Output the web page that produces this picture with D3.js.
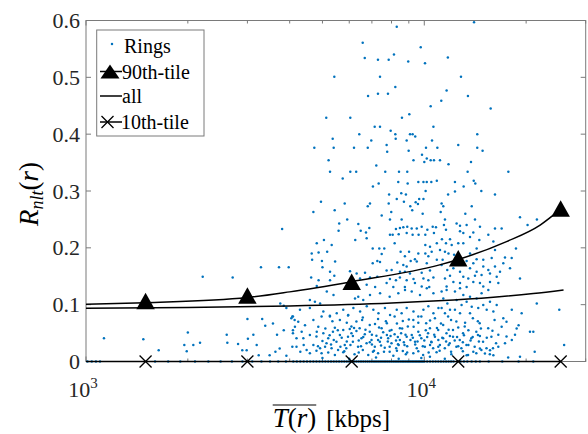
<!DOCTYPE html>
<html><head><meta charset="utf-8">
<script src="https://cdn.jsdelivr.net/npm/d3@7"></script>
<style>body{margin:0;background:#fff}svg{display:block}</style>
</head><body>
<svg id="c" width="588" height="434"></svg>
<script>
// ---- data (T in kbps, R values) ----
const rings = [
[8290,.589],[14030,.597],[6576,.561],[9760,.553],[6667,.534],[7295,.531],[7848,.531],[8134,.540],[8965,.528],[10048,.525],[11740,.535],[5420,.501],[7397,.501],[12836,.501],[8210,.483],[6820,.467],[7295,.471],[7809,.471],[11640,.477],[13460,.467],[11225,.459],[10443,.449],[15710,.445],[5131,.429],[6043,.429],[8590,.429],[9030,.435],[7135,.413],[7397,.413],[10640,.413],[7954,.406],[6424,.400],[8210,.400],[9072,.400],[9237,.400],[14340,.400],[5361,.392],[8230,.392],[9402,.396],[6971,.389],[8870,.389],[10540,.389],[4730,.376],[5397,.376],[6197,.376],[6806,.376],[7737,.381],[7768,.369],[8990,.371],[10117,.376],[10930,.376],[12600,.381],[14340,.376],[14870,.371],[5213,.354],[7213,.345],[9290,.354],[9845,.364],[10000,.351],[10170,.357],[10443,.354],[10680,.354],[11127,.354],[11790,.347],[13743,.351],[5264,.334],[6043,.334],[6290,.334],[7666,.334],[8419,.334],[8905,.334],[13430,.334],[17720,.334],[5739,.322],[7050,.308],[7330,.313],[8376,.316],[8930,.313],[9600,.316],[9940,.316],[10170,.316],[10490,.316],[10890,.318],[12320,.316],[14000,.318],[14150,.313],[13070,.308],[10090,.300],[14740,.300],[7870,.294],[8549,.296],[8824,.294],[11760,.294],[12320,.299],[16180,.294],[4950,.281],[5818,.278],[8290,.286],[9660,.286],[9940,.286],[8705,.281],[7848,.278],[9430,.280],[9577,.277],[11250,.278],[6910,.278],[6806,.273],[9090,.273],[11380,.273],[13810,.273],[4700,.263],[5434,.266],[7987,.263],[9212,.266],[9890,.260],[11180,.263],[13220,.260],[7483,.257],[5917,.250],[7916,.250],[8572,.250],[11510,.250],[14120,.250],[19180,.254],[21520,.250],
[5604,.243],[6382,.242],[6877,.235],[6487,.230],[6724,.227],[5580,.230],[8245,.233],[8472,.235],[8670,.236],[8905,.237],[9177,.234],[9500,.234],[9825,.237],[10210,.232],[10590,.237],[10826,.236],[7916,.223],[8063,.223],[8400,.224],[8870,.226],[9237,.223],[9620,.223],[10070,.223],[10680,.226],[6755,.217],[6251,.214],[5050,.214],[4810,.208],[5325,.205],[8173,.208],[7039,.199],[7361,.199],[7615,.199],[10070,.205],[10395,.202],[10890,.208],[4647,.190],[4870,.192],[5163,.193],[8512,.193],[9015,.193],[9600,.190],[10070,.190],[10515,.193],[7483,.189],[8763,.185],[10280,.185],[9384,.180],[9500,.176],[9115,.177],[7039,.173],[7263,.177],[7397,.175],[4660,.179],[4983,.177],[5450,.176],[10890,.179],[8320,.174],[10170,.173],[8670,.170],[8870,.167],[5000,.166],[5264,.158],[6031,.159],[6310,.155],[6680,.156],[7737,.160],[8008,.161],[8472,.158],[8763,.158],[9072,.155],[9825,.156],[10395,.160],[4630,.148],[4870,.143],[5264,.143],[5420,.151],[6456,.146],[6910,.148],[7263,.149],[7916,.145],[8245,.143],[8472,.148],[8870,.143],[9290,.145],[9940,.146],[10280,.143],[10640,.148],[4810,.133],[6755,.135],[7157,.131],[7737,.138],[8100,.131],[8763,.131],[9384,.138],[9825,.132],[10345,.131],
[11430,.240],[11590,.232],[12460,.243],[12750,.239],[13340,.240],[14607,.237],[20200,.240],[12750,.229],[13040,.226],[13960,.227],[15460,.223],[16180,.234],[16930,.234],[11275,.215],[11590,.208],[11912,.215],[12050,.205],[12600,.208],[13040,.208],[13650,.219],[14540,.214],[16000,.211],[14280,.199],[16180,.196],[18660,.199],[11127,.196],[11510,.193],[11790,.190],[12250,.188],[13650,.190],[13340,.177],[14280,.180],[14940,.179],[15820,.182],[17320,.183],[18130,.182],[17120,.173],[13960,.173],[11330,.179],[11250,.170],[11690,.161],[12190,.164],[12750,.158],[13650,.164],[14280,.158],[14940,.167],[15460,.161],[16180,.167],[16740,.158],[17920,.164],[13040,.149],[13490,.146],[14120,.151],[14770,.152],[15637,.155],[16370,.149],[19180,.146],[11510,.146],[11912,.151],[12190,.140],[12750,.138],[13960,.140],[14607,.138],[15637,.140],[16550,.138],[11640,.132],[13340,.131],[14940,.132],
[3800,.233],[2213,.149],[2714,.148],[3290,.166],[3720,.166],[3974,.166],[1130,.041],[1477,.039],[1640,.020],[2000,.051],[1953,.029],[2076,.029],[2173,.033],[1985,.018],[2606,.047],[2617,.033],[2815,.031],[3000,.075],[3317,.075],[3387,.063],[3010,.040],[3124,.047],[3195,.029],[2897,.020],[2985,.020],[3240,.011],[3490,.011],[3630,.017],[3737,.023],[3912,.010],[3670,.047],[3842,.055],[3752,.102],[3842,.098],[3912,.094],[4073,.079],[4137,.073],[4090,.055],[4190,.041],[3570,.067],[4073,.026],[4146,.061],
[6240,.111],[6380,.114],[6600,.108],[6910,.117],[7400,.120],[7900,.114],[8380,.120],[8770,.126],[9180,.123],[9710,.117],[10170,.129],[10640,.120],[4590,.108],[4750,.105],[4920,.102],[5390,.117],[5150,.123],
[4090,.079],[4290,.091],[4590,.094],[5030,.088],[5260,.079],[5510,.085],[5760,.091],[5960,.082],[6170,.094],[6460,.088],[6760,.097],[7070,.091],[7320,.085],[7650,.094],[7920,.082],[8290,.091],[8570,.085],[8870,.094],[9290,.088],[9600,.079],[9940,.091],[10280,.097],[10640,.085],[11010,.094],
[4045,.076],[4240,.070],[4440,.064],[4700,.073],[4860,.061],[4090,.0496],[4340,.0525],[4390,.0408],[4590,.0467],[4810,.0525],[4190,.0261],[4490,.0202],[4700,.029],[4920,.0232],[4590,.0144],
[4970,.079],[5260,.0805],[5630,.0731],[5950,.081],[6300,.0702],[6580,.0772],[6900,.0643],[7300,.0749],[7750,.0672],[8170,.079],[8640,.0713],[8940,.0614],[6090,.0614],[5440,.0596],[7480,.0584],[8000,.0555],[8470,.0584],[5030,.0496],[5200,.0408],[5370,.0525],[5500,.0349],[5630,.0467],[5760,.0555],[5820,.029],[5950,.0437],[6090,.0496],[6150,.0349],[6300,.0537],[6370,.0261],[6520,.0408],[6670,.0478],[6750,.032],[6900,.0525],[6980,.0379],[7140,.0261],[7220,.0455],[7390,.0349],[7560,.0514],[7640,.0243],[7820,.0408],[8000,.032],[8170,.0478],[8260,.0232],[8470,.0379],[8540,.0496],[8740,.029],[8870,.0437],[5090,.0261],[5320,.0232],[5560,.0202],[6580,.0202],[7050,.0173],[7900,.0173],[8640,.0185],[5140,.032],[5880,.0232],[6020,.0572],[6440,.0584],[7750,.0467],[8360,.0302],[4970,.0143],[5440,.0114],[5760,.0161],[6220,.0126],[6830,.0114],[7300,.0143],[8100,.0103],[8820,.0126],
[9280,.0731],[9800,.079],[10130,.0672],[10750,.076],[11370,.0643],[11760,.079],[12440,.0702],[13170,.0614],[13920,.076],[14580,.0672],[15450,.0584],[16130,.0731],[10390,.0584],[12160,.0555],[14250,.0525],[9180,.0467],[9390,.0349],[9600,.0525],[9800,.0408],[10040,.0261],[10260,.0496],[10490,.0349],[10750,.0437],[10990,.0555],[11120,.029],[11370,.0408],[11630,.0496],[11890,.032],[12160,.0437],[12440,.0261],[12730,.0379],[13020,.0496],[13320,.029],[13770,.0408],[14090,.0261],[14410,.0467],[14920,.0349],[15270,.0232],[15790,.0437],[16300,.032],[9500,.0232],[10620,.0232],[11500,.0232],[12870,.0232],[14750,.0202],[15960,.0232],[9280,.0143],[9920,.0114],[10870,.0161],[12020,.0126],[13470,.0114],[15620,.0126],[10390,.0085],[14250,.0143],
[21500,.102],[25060,.091],[25900,.029],[21200,.017],[19180,.0085],[17700,.007],[20530,.0525],[21000,.0525],[19000,.064],[18750,.058],[18140,.091],[19400,.085],[17500,.070],[17120,.076],[16930,.061],[16550,.047],[17500,.044],[18140,.038],[18540,.047],[17320,.032],[16550,.026],[15640,.020],[15110,.014],[16000,.011],[14600,.023],[13960,.017],[13340,.011],
[11250,.123],[11640,.126],[11380,.111],[11700,.102],[11250,.094],[11510,.085],[11912,.091],[12320,.123],[12750,.129],[13040,.117],[12460,.108],[12890,.0995],[13340,.105],[12320,.091],[12750,.085],[13650,.114],[14280,.111],[14770,.120],[13810,.0965],[14440,.094],[14940,.0995],[13650,.085],[15460,.126],[15637,.105],[15290,.091],[16000,.088],[16370,.0995],
[5350,.071],[5900,.068],[6550,.073],[7150,.066],[7700,.071],[8300,.067],[9000,.074],[9600,.068],[10400,.072],[11200,.067],[12000,.073],[13200,.068],[14400,.071],
[5100,.058],[5550,.055],[6200,.059],[6700,.056],[7350,.060],[7900,.054],[8600,.058],[9300,.061],[10100,.055],[10900,.059],[11800,.056],[12600,.060],[13500,.055],[14700,.058],[15900,.054],
[4800,.044],[5250,.046],[5700,.042],[6150,.045],[6600,.043],[7000,.047],[7450,.042],[7950,.045],[8350,.043],[8800,.047],[9250,.042],[9700,.046],[10200,.043],[10700,.047],[11300,.042],[11900,.045],[12500,.043],[13100,.046],[13900,.043],[14600,.045],[15300,.042],
[5000,.036],[5400,.038],[5900,.035],[6400,.037],[6900,.034],[7300,.038],[7800,.035],[8250,.037],[8700,.034],[9100,.038],[9550,.035],[10000,.037],[10500,.034],[11000,.038],[11600,.035],[12300,.037],[13000,.034],[13700,.037],[14500,.035],
[4400,.029],[4850,.027],[5300,.030],[5650,.026],[6050,.029],[6500,.027],[7000,.030],[7450,.028],[7900,.026],[8400,.029],[8900,.027],[9400,.030],[9900,.027],[10400,.029],[11000,.026],[11800,.029],[12600,.027],[13500,.029],
[4300,.017],[4800,.019],[5200,.016],[5800,.018],[6400,.016],[7100,.019],[7600,.017],[8300,.019],[8900,.016],[9600,.018],[10300,.016],[11100,.019],[12000,.017],[13000,.018],
[5000,.006],[6000,.005],[7200,.007],[8400,.005],[9800,.006],[11500,.005],
[1010,0],[1040,0],[1070,0],[1100,0],[1600,0],[1750,0],[1900,0],[2100,0],[2300,0],[2500,0],[2700,0],[2900,0],[3100,0],[3300,0],[3500,0],[3700,0],[3900,0],[4100,0],[4200,0],[4300,0],[4400,0],[4500,0],[4600,0],[4700,0],[4800,0],[4900,0],[5000,0],[5100,0],[5200,0],[5300,0],[5400,0],[5500,0],[5600,0],[5700,0],[5800,0],[5900,0],[6000,0],[6100,0],[6200,0],[6300,0],[6400,0],[6500,0],[6600,0],[6700,0],[6800,0],[6900,0],[7000,0],[7100,0],[7200,0],[7300,0],[7400,0],[7500,0],[7600,0],[7700,0],[7800,0],[7900,0],[8000,0],[8100,0],[8200,0],[8300,0],[8400,0],[8500,0],[8600,0],[8700,0],[8800,0],[8900,0],[9000,0],[9100,0],[9200,0],[9300,0],[9400,0],[9500,0],[9600,0],[9700,0],[9800,0],[9900,0],[10000,0],[10200,0],[10400,0],[10600,0],[10800,0],[11000,0],[11200,0],[11400,0],[11600,0],[11800,0],[12000,0],[12200,0],[12500,0],[12800,0],[13100,0],[13400,0],[13800,0],[14200,0],[14600,0],[15500,0],[17000,0],[19000,0],[21000,0]
];
const binT = [1500, 3000, 6100, 12600, 25300];        // marker positions
const p90R = [0.1065, 0.116, 0.1405, 0.1817, 0.269];   // 90th-tile markers
const p10R = [0, 0, 0, 0, 0];                          // 10th-tile markers
const fit90T = [1000, 1500, 3000, 4000, 6100, 11100, 12600, 17500, 22000, 25300];
const fit90R = [0.1005, 0.1035, 0.1125, 0.1225, 0.1405, 0.170, 0.1795, 0.211, 0.240, 0.268];
const allT = [1000, 2000, 4000, 8000, 11000, 16000, 21000, 25800];
const allR = [0.0937, 0.095, 0.0976, 0.1028, 0.1067, 0.1132, 0.1197, 0.126];
const fit10T = [1000, 25300];
const fit10R = [0, 0];
const yTicks = [0, 0.1, 0.2, 0.3, 0.4, 0.5, 0.6];
const xMajor = [1000, 10000];
const xMajorExp = ['3', '4'];
const xMinor = [2000,3000,4000,5000,6000,7000,8000,9000,20000,30000];
const legendLabels = ['Rings', '90th-tile', 'all', '10th-tile'];

// ---- drawing ----
const svg = d3.select('#c');
const L = 86, R = 585.7, T = 20.5, B = 361.5;
const x = d3.scaleLog().domain([1000, 30000]).range([L, R]);
const y = d3.scaleLinear().domain([0, 0.6]).range([B, T]);
const blue = '#0072BD';
const FONT = "'Liberation Serif'";
const txt = (sel) => sel.append('text').style('font-family', FONT);

svg.append('rect').attr('width', 588).attr('height', 434).attr('fill', '#fff');

// axes box & ticks
const ax = svg.append('g').attr('stroke', '#7a7a7a').attr('stroke-width', 1).attr('fill', 'none');
ax.append('rect').attr('x', L).attr('y', T).attr('width', R - L).attr('height', B - T);
yTicks.forEach(v => {
  ax.append('line').attr('x1', L).attr('x2', L + 5).attr('y1', y(v)).attr('y2', y(v));
  ax.append('line').attr('x1', R - 5).attr('x2', R).attr('y1', y(v)).attr('y2', y(v));
});
xMajor.forEach(v => {
  ax.append('line').attr('x1', x(v)).attr('x2', x(v)).attr('y1', T).attr('y2', T + 5);
  ax.append('line').attr('x1', x(v)).attr('x2', x(v)).attr('y1', B).attr('y2', B - 5);
});
xMinor.forEach(v => {
  ax.append('line').attr('x1', x(v)).attr('x2', x(v)).attr('y1', T).attr('y2', T + 3);
  ax.append('line').attr('x1', x(v)).attr('x2', x(v)).attr('y1', B).attr('y2', B - 3);
});

// tick labels (plain serif text, no stretching)
yTicks.forEach(v => {
  txt(svg).attr('x', 80).attr('y', y(v) + 7.5).attr('text-anchor', 'end')
    .attr('font-size', 22).attr('fill', '#262626')
    .text(v === 0 ? '0' : d3.format('.1f')(v));
});
xMajor.forEach((v, i) => {
  const t = txt(svg).attr('x', x(v) - 3).attr('y', 397).attr('text-anchor', 'middle')
    .attr('font-size', 22).attr('fill', '#262626');
  t.append('tspan').text('10');
  t.append('tspan').attr('dy', -9).attr('font-size', 15).text(xMajorExp[i]);
});

// scatter
svg.append('g').selectAll('circle').data(rings).join('circle')
  .attr('cx', d => x(d[0])).attr('cy', d => y(d[1])).attr('r', 1.25).attr('fill', blue);

// lines
const line = d3.line().x(d => x(d[0])).y(d => y(d[1])).curve(d3.curveMonotoneX);
const lg = svg.append('g').attr('fill', 'none').attr('stroke', '#000').attr('stroke-width', 1.5);
lg.append('path').attr('d', line(fit90T.map((t, i) => [t, fit90R[i]])));
lg.append('path').attr('d', line(allT.map((t, i) => [t, allR[i]])));
lg.append('path').attr('d', line(fit10T.map((t, i) => [t, fit10R[i]])));

// markers
const tri = (cx, cy, w, h) => `M${cx},${cy - h / 2}L${cx + w / 2},${cy + h / 2}L${cx - w / 2},${cy + h / 2}Z`;
const cross = (cx, cy, s) => `M${cx - s},${cy - s}L${cx + s},${cy + s}M${cx - s},${cy + s}L${cx + s},${cy - s}`;
svg.append('g').selectAll('path').data(binT).join('path')
  .attr('d', (t, i) => tri(x(t), y(p90R[i]), 18.5, 16.5)).attr('fill', '#000');
svg.append('g').selectAll('path').data(binT).join('path')
  .attr('d', (t, i) => cross(x(t), y(p10R[i]), 6)).attr('stroke', '#000').attr('stroke-width', 1.3).attr('fill', 'none');

// legend
const leg = svg.append('g');
leg.append('rect').attr('x', 96.7).attr('y', 30).attr('width', 107.3).attr('height', 106)
  .attr('fill', '#fff').attr('stroke', '#7a7a7a').attr('stroke-width', 1);
const rowsY = [53.3, 79, 103.3, 129];
const textX = [124, 122, 122, 121];
legendLabels.forEach((lab, i) => {
  txt(leg).attr('x', textX[i]).attr('y', rowsY[i]).attr('font-size', 20).attr('fill', '#000').text(lab);
});
leg.append('circle').attr('cx', 112).attr('cy', 44).attr('r', 1.25).attr('fill', blue);
leg.append('line').attr('x1', 100).attr('x2', 122).attr('y1', 71.5).attr('y2', 71.5).attr('stroke', '#000').attr('stroke-width', 1.5);
leg.append('path').attr('d', tri(110, 71.5, 19, 14)).attr('fill', '#000');
leg.append('line').attr('x1', 100).attr('x2', 122).attr('y1', 96).attr('y2', 96).attr('stroke', '#000').attr('stroke-width', 1.5);
leg.append('line').attr('x1', 100).attr('x2', 122).attr('y1', 122).attr('y2', 122).attr('stroke', '#000').attr('stroke-width', 1.5);
leg.append('path').attr('d', cross(107.5, 122, 6)).attr('stroke', '#000').attr('stroke-width', 1.3).attr('fill', 'none');

// y label (rotated, natural width)
const yl = txt(svg).attr('transform', 'translate(38,194) rotate(-90)')
  .attr('x', 0).attr('y', 0).attr('text-anchor', 'middle').attr('font-size', 27).attr('fill', '#000');
yl.append('tspan').attr('font-style', 'italic').text('R');
yl.append('tspan').attr('font-style', 'italic').attr('font-size', 18).attr('dy', 5).text('nlt');
yl.append('tspan').attr('dy', -5).text('(');
yl.append('tspan').attr('font-style', 'italic').text('r');
yl.append('tspan').text(')');

// x label
const xl1 = txt(svg).attr('x', 272.7).attr('y', 427).attr('font-size', 27).attr('fill', '#000');
xl1.append('tspan').attr('font-style', 'italic').text('T');
xl1.append('tspan').text('(');
xl1.append('tspan').attr('font-style', 'italic').text('r');
xl1.append('tspan').text(')');
let w1 = 0;
try { w1 = xl1.node().getComputedTextLength(); } catch (e) { w1 = 0; }
if (!w1) w1 = 46;
svg.append('line').attr('x1', 272.7).attr('x2', 272.7 + w1).attr('y1', 405).attr('y2', 405).attr('stroke', '#000').attr('stroke-width', 1.2);
txt(svg).attr('x', 272.7 + w1 + 10).attr('y', 427).attr('font-size', 25).attr('fill', '#000').text('[kbps]');
</script>
</body></html>
